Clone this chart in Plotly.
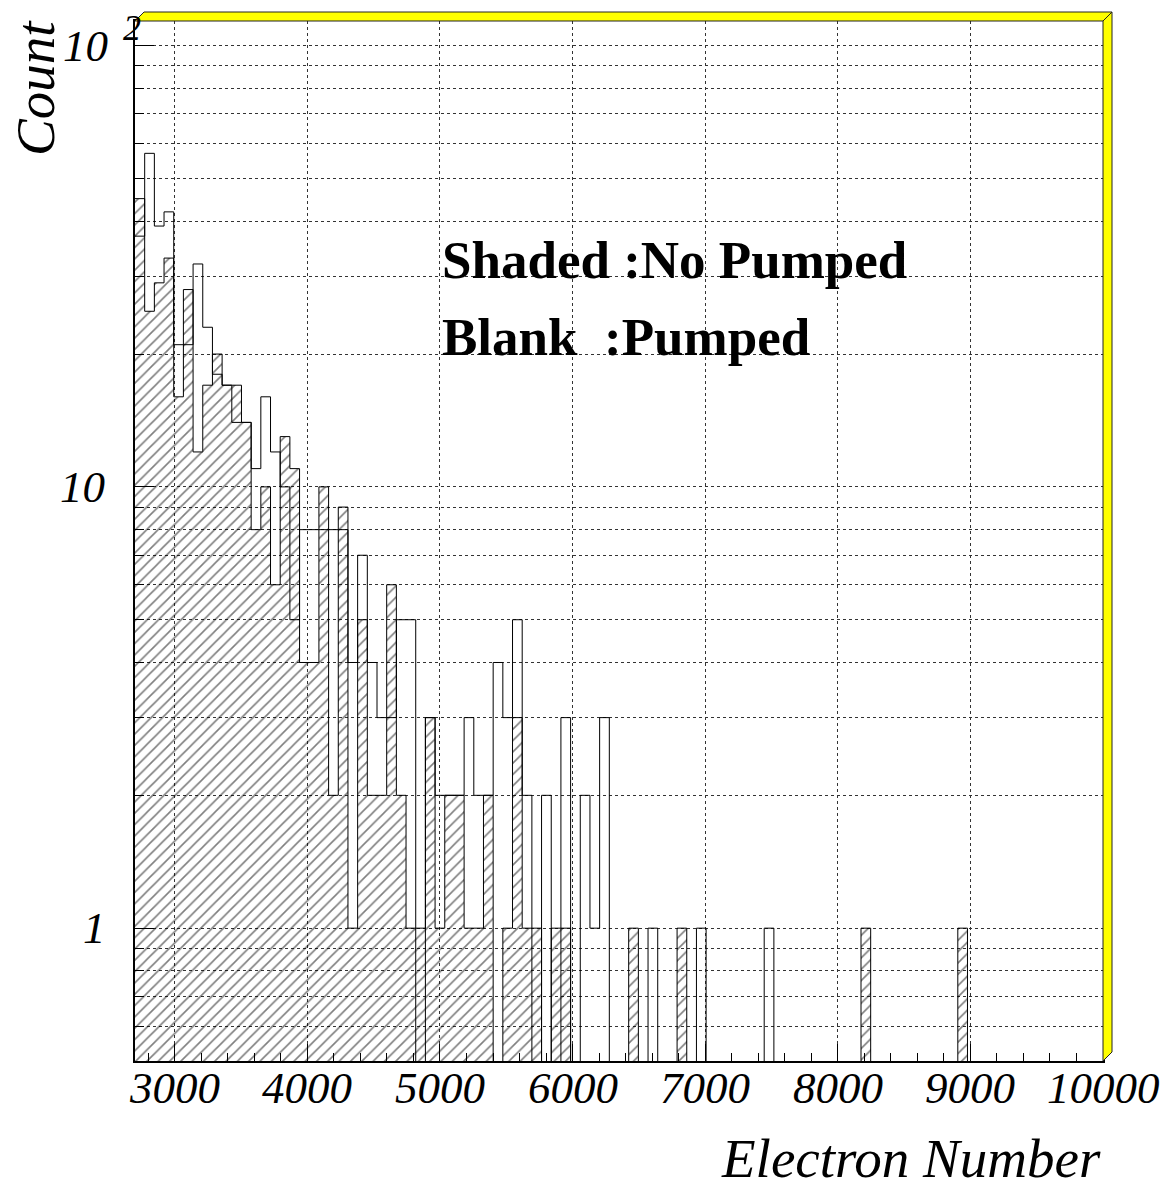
import numpy as np
import plotly.graph_objects as go

# ---------------- data ----------------
bin_start = 2700
bin_width = 73
n_bins = 100

# Shaded : No Pumped (hatched histogram), counts per bin
no_pumped = [45, 25, 29, 33, 16, 28, 12, 17, 20, 17,
             17, 14, 8, 10, 6, 13, 11, 4, 4, 10,
             2, 9, 1, 5, 2, 2, 6, 2, 1, 1,
             3, 1, 2, 2, 1, 1, 2, 0, 1, 3,
             1, 1, 0, 1, 1, 0, 0, 0, 0, 0,
             0, 1, 0, 0, 0, 0, 1, 0, 0, 0,
             0, 0, 0, 0, 0, 0, 0, 0, 0, 0,
             0, 0, 0, 0, 0, 1, 0, 0, 0, 0,
             0, 0, 0, 0, 0, 1, 0, 0, 0, 0,
             0, 0, 0, 0, 0, 0, 0, 0, 0, 0]

# Blank : Pumped (outline histogram), counts per bin
pumped = [37, 57, 39, 42, 21, 21, 32, 23, 18, 17,
          14, 14, 11, 16, 12, 10, 5, 8, 8, 8,
          8, 8, 4, 7, 4, 3, 3, 5, 5, 0,
          3, 2, 2, 2, 3, 2, 2, 4, 3, 5,
          2, 0, 2, 0, 3, 0, 2, 1, 3, 0,
          0, 0, 0, 1, 0, 0, 0, 0, 1, 0,
          0, 0, 0, 0, 0, 1, 0, 0, 0, 0,
          0, 0, 0, 0, 0, 0, 0, 0, 0, 0,
          0, 0, 0, 0, 0, 0, 0, 0, 0, 0,
          0, 0, 0, 0, 0, 0, 0, 0, 0, 0]

x_tick_vals = [3000, 4000, 5000, 6000, 7000, 8000, 9000, 10000]
x_tick_text = ["3000", "4000", "5000", "6000", "7000", "8000", "9000", "10000"]
y_grid_vals = [0.6, 0.7, 0.8, 0.9, 1, 2, 3, 4, 5, 6, 7, 8, 9,
               10, 20, 30, 40, 50, 60, 70, 80, 90, 100]
y_major_vals = [1, 10, 100]
y_label_text = ["1", "10", "10"]
y_label_sup = ["", "", "2"]

x_range = [2700, 10000]
y_range = [0.5, 113.7]

legend_lines = ["Shaded :No Pumped", "Blank\u00a0\u00a0:Pumped"]
x_title = "Electron Number"
y_title = "Count"

# ---------------- geometry ----------------
W, H = 1167, 1191
L, R, T, B = 135, 64, 21, 130
PW, PH = W - L - R, H - T - B


def px_x(p):
    return (p - L) / PW


def px_y(p):
    return (H - B - p) / PH


edges = bin_start + bin_width * np.arange(n_bins + 1)
centers = edges[:-1] + bin_width / 2.0
FLOOR = 1e-3  # empty bins drop to the bottom of the frame


def step_xy(counts):
    c = [v if v > 0 else FLOOR for v in counts]
    return list(edges), c + [c[-1]]


serif = "Liberation Serif"
fig = go.Figure()

# hatched fill of the "No Pumped" histogram
fig.add_trace(go.Bar(
    x=centers, y=[v if v > 0 else None for v in no_pumped], width=bin_width,
    marker=dict(color="rgba(0,0,0,0)", line=dict(width=0),
                pattern=dict(shape="/", fgcolor="black", size=8, solidity=0.2)),
    showlegend=False, hoverinfo="skip"))

sx, sy = step_xy(no_pumped)
fig.add_trace(go.Scatter(x=sx, y=sy, mode="lines", line=dict(shape="hv", color="black", width=1),
                         showlegend=False, hoverinfo="skip"))
bx, by = step_xy(pumped)
fig.add_trace(go.Scatter(x=bx, y=by, mode="lines", line=dict(shape="hv", color="black", width=1),
                         showlegend=False, hoverinfo="skip"))
# empty trace to activate overlay axis for long major y ticks
fig.add_trace(go.Scatter(x=[None], y=[None], yaxis="y2", showlegend=False, hoverinfo="skip"))

ylog = [np.log10(y_range[0]), np.log10(y_range[1])]

fig.update_layout(
    width=W, height=H, autosize=False,
    margin=dict(l=L, r=R, t=T, b=B, pad=0),
    paper_bgcolor="white", plot_bgcolor="white",
    bargap=0, barmode="overlay",
    xaxis=dict(range=x_range, tickmode="array", tickvals=x_tick_vals, ticktext=x_tick_text,
               showticklabels=False,
               ticks="inside", ticklen=17, tickwidth=1, tickcolor="black",
               showline=True, linecolor="black", linewidth=2, mirror=True,
               showgrid=True, gridcolor="#333", griddash="dot", gridwidth=1,
               zeroline=False,
               minor=dict(dtick=200, tick0=2800, ticks="inside", ticklen=8,
                          tickcolor="black", showgrid=False)),
    yaxis=dict(type="log", range=ylog, tickmode="array", tickvals=y_grid_vals,
               ticktext=[""] * len(y_grid_vals),
               ticks="inside", ticklen=9, tickwidth=1, tickcolor="black",
               showline=True, linecolor="black", linewidth=2, mirror=True,
               showgrid=True, gridcolor="#333", griddash="dot", gridwidth=1,
               zeroline=False),
    yaxis2=dict(type="log", range=ylog, overlaying="y", side="left",
                tickmode="array", tickvals=y_major_vals, ticktext=[""] * 3,
                ticks="inside", ticklen=19, tickwidth=1, tickcolor="black",
                showgrid=False, zeroline=False, showline=False),
)

# 3D yellow frame border (top and right)
bw = 9
top_band = (f"M {px_x(L)},{px_y(T)} L {px_x(L + bw)},{px_y(T - bw)} "
            f"L {px_x(L + PW + bw)},{px_y(T - bw)} L {px_x(L + PW)},{px_y(T)} Z")
right_band = (f"M {px_x(L + PW)},{px_y(T)} L {px_x(L + PW + bw)},{px_y(T - bw)} "
              f"L {px_x(L + PW + bw)},{px_y(T + PH - bw)} L {px_x(L + PW)},{px_y(T + PH)} Z")
for p in (top_band, right_band):
    fig.add_shape(type="path", path=p, xref="paper", yref="paper",
                  fillcolor="#ffff00", line=dict(color="#222", width=1), layer="above")

tick_font = dict(family=serif, size=45, color="black", style="italic")

# x tick labels
for v, t in zip(x_tick_vals, x_tick_text):
    fig.add_annotation(x=v, y=px_y(1088), xref="x", yref="paper", text=t,
                       showarrow=False, xanchor="center", yanchor="middle", font=tick_font)

# y tick labels
for v, t, s in zip(y_major_vals, y_label_text, y_label_sup):
    xr = {1: 108, 10: 107, 100: 110}[v]
    fig.add_annotation(x=px_x(xr), y=np.log10(v), xref="paper", yref="y",
                       text=t, showarrow=False, xanchor="right", yanchor="middle", font=tick_font)
    if s:
        fig.add_annotation(x=px_x(121), y=px_y(28), xref="paper", yref="paper", text=s,
                           showarrow=False, xanchor="left", yanchor="middle",
                           font=dict(family=serif, size=36, color="black", style="italic"))

# axis titles
fig.add_annotation(x=px_x(35), y=px_y(88), xref="paper", yref="paper", text=y_title,
                   textangle=-90, showarrow=False, xanchor="center", yanchor="middle",
                   font=dict(family=serif, size=55, color="black", style="italic"))
fig.add_annotation(x=px_x(1103), y=px_y(1191), xref="paper", yref="paper", text=x_title,
                   showarrow=False, xanchor="right", yanchor="bottom",
                   font=dict(family=serif, size=55, color="black", style="italic"))

# legend text
for i, txt in enumerate(legend_lines):
    fig.add_annotation(x=px_x(440), y=px_y(260 + 77 * i), xref="paper", yref="paper", text=txt,
                       showarrow=False, xanchor="left", yanchor="middle",
                       font=dict(family=serif, size=53, color="black", weight="bold"))

fig.write_html("out.html")
